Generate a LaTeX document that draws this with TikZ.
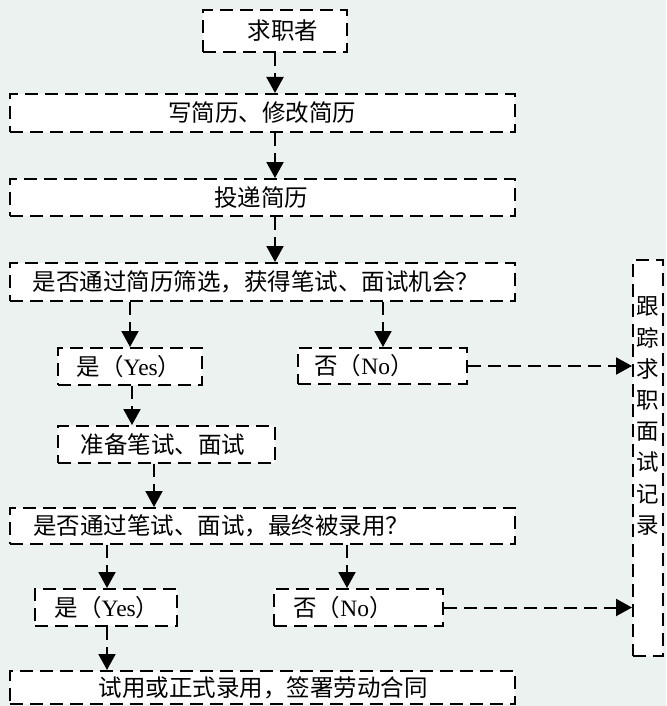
\documentclass[tikz,border=0pt]{standalone}
\usepackage{fontspec}
\setmainfont{Liberation Serif}
\newfontfamily\cjk{Noto Sans CJK SC}
\usetikzlibrary{arrows.meta}
\definecolor{bgc}{HTML}{ECF2F0}
\tikzset{
  box/.style={draw=black, fill=white, line width=2pt, dash pattern=on 13pt off 7pt, inner sep=0pt, anchor=center},
  txt/.style={inner sep=0pt, font=\fontsize{23.5}{28}\selectfont\cjk},
  arr/.style={draw=black, line width=2pt, dash pattern=on 13pt off 7pt, -{Triangle[length=16pt,width=17pt]}},
}
\begin{document}
\begin{tikzpicture}[x=1pt,y=-1pt]
\fill[bgc] (0,0) rectangle (666,706);
\useasboundingbox (0,0) rectangle (666,706);
% boxes
\node[box, minimum width=144pt, minimum height=42pt] (b1) at (275,31) {};
\node[txt] (t1) at (283,31) {求职者};
\node[box, minimum width=505pt, minimum height=38pt] (b2) at (262.5,113) {};
\node[txt] (t2) at (262,113) {写简历、修改简历};
\node[box, minimum width=505pt, minimum height=37pt] (b3) at (262.5,197.5) {};
\node[txt] (t3) at (261,197.5) {投递简历};
\node[box, minimum width=505pt, minimum height=38pt] (b4) at (262.5,282) {};
\node[txt] (t4) at (256,282) {是否通过简历筛选，获得笔试、面试机会？};
\node[box, minimum width=144pt, minimum height=37pt] (y1) at (130,366.5) {};
\node[txt] (ty1) at (129,366.5) {是（{\rmfamily Yes}）};
\node[box, minimum width=169pt, minimum height=36pt] (n1) at (382.5,366) {};
\node[txt] (tn1) at (364,366) {否（{\rmfamily No}）};
\node[box, minimum width=217pt, minimum height=37pt] (b5) at (166.5,444.5) {};
\node[txt] (t5) at (163,444.5) {准备笔试、面试};
\node[box, minimum width=505pt, minimum height=36pt] (b6) at (262.5,526) {};
\node[txt, anchor=west] (t6) at (33,526) {是否通过笔试、面试，最终被录用？};
\node[box, minimum width=142pt, minimum height=37pt] (y2) at (106,607.5) {};
\node[txt] (ty2) at (107,607.5) {是（{\rmfamily Yes}）};
\node[box, minimum width=169pt, minimum height=37pt] (n2) at (358.5,607.5) {};
\node[txt] (tn2) at (343,607.5) {否（{\rmfamily No}）};
\node[box, minimum width=505pt, minimum height=33pt] (b7) at (262.5,687.5) {};
\node[txt] (t7) at (263,688) {试用或正式录用，签署劳动合同};
\node[box, minimum width=30pt, minimum height=396pt] (tall) at (648,458) {};
\node[txt, font=\fontsize{22.5}{31.2}\selectfont\cjk, align=center] (tt) at (648,416) {跟\\踪\\求\\职\\面\\试\\记\\录};
% x positions
\coordinate (x275) at (275,0);
\coordinate (x130) at (130,0);
\coordinate (x383) at (383,0);
\coordinate (x132) at (132,0);
\coordinate (x154) at (154,0);
\coordinate (x107) at (107,0);
\coordinate (x347) at (347,0);
% connectors
\draw[arr] (b1.south -| x275) -- (b2.north -| x275);
\draw[arr] (b2.south -| x275) -- (b3.north -| x275);
\draw[arr] (b3.south -| x275) -- (b4.north -| x275);
\draw[arr] (b4.south -| x130) -- (y1.north -| x130);
\draw[arr] (b4.south -| x383) -- (n1.north -| x383);
\draw[arr] (y1.south -| x132) -- (b5.north -| x132);
\draw[arr] (b5.south -| x154) -- (b6.north -| x154);
\draw[arr] (b6.south -| x107) -- (y2.north -| x107);
\draw[arr] (b6.south -| x347) -- (n2.north -| x347);
\draw[arr] (y2.south -| x107) -- (b7.north -| x107);
\draw[arr] (n1.east) -- (n1.east -| tall.west);
\draw[arr] (n2.east) -- (n2.east -| tall.west);
\end{tikzpicture}
\end{document}
